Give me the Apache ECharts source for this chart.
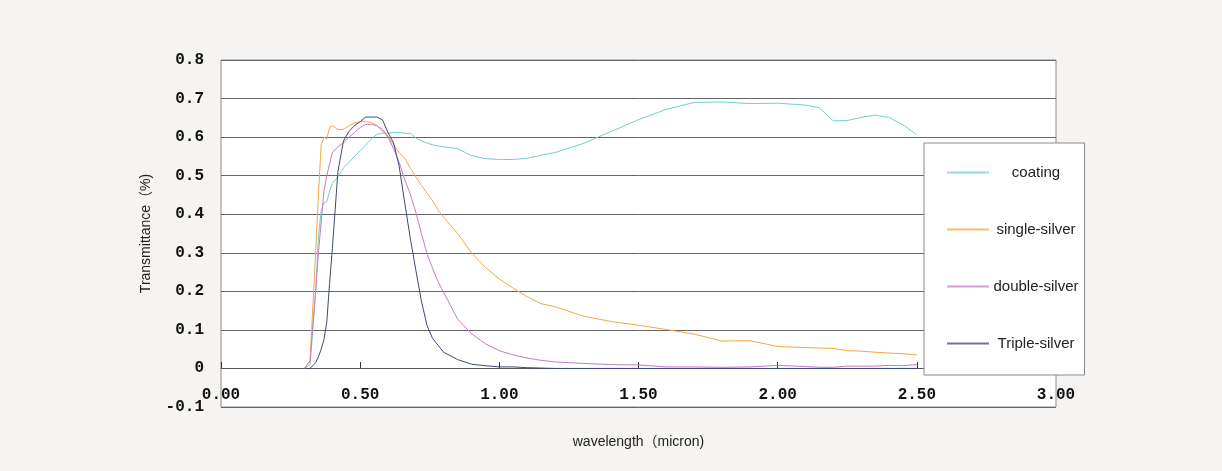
<!DOCTYPE html>
<html>
<head>
<meta charset="utf-8">
<script src="https://cdn.jsdelivr.net/npm/echarts@6/dist/echarts.min.js"></script>
<style>
html,body{margin:0;padding:0;background:#f5f4f2;}
#chart{width:1222px;height:471px;}
</style>
</head>
<body>
<div id="chart"></div>
<script>
// wavelength (micron)
const wavelengths = [0.30,0.32,0.34,0.35,0.36,0.37,0.38,0.39,0.40,0.42,0.44,0.46,0.48,0.50,0.52,0.54,0.56,0.58,0.60,0.62,0.64,0.66,0.68,0.70,0.72,0.74,0.76,0.78,0.80,0.85,0.90,0.95,1.00,1.05,1.10,1.15,1.20,1.30,1.40,1.50,1.60,1.70,1.80,1.90,2.00,2.10,2.15,2.20,2.25,2.30,2.35,2.40,2.45,2.50];
const coating = [0,0.01,0.20,0.34,0.41,0.43,0.432,0.46,0.48,0.497,0.52,0.535,0.55,0.565,0.58,0.595,0.607,0.61,0.61,0.612,0.612,0.61,0.61,0.598,0.59,0.585,0.58,0.577,0.575,0.57,0.552,0.544,0.542,0.542,0.545,0.553,0.56,0.583,0.614,0.645,0.672,0.69,0.691,0.687,0.688,0.683,0.676,0.642,0.643,0.651,0.657,0.651,0.632,0.606];
const singleSilver = [0,0.02,0.30,0.45,0.58,0.60,0.595,0.625,0.63,0.62,0.62,0.63,0.637,0.64,0.64,0.638,0.63,0.615,0.603,0.58,0.56,0.545,0.52,0.497,0.475,0.455,0.435,0.41,0.392,0.35,0.30,0.262,0.232,0.208,0.186,0.168,0.16,0.136,0.122,0.112,0.101,0.089,0.071,0.072,0.057,0.054,0.053,0.052,0.046,0.045,0.042,0.04,0.038,0.035];
const doubleSilver = [0,0.02,0.20,0.30,0.38,0.46,0.50,0.53,0.56,0.575,0.585,0.60,0.612,0.625,0.633,0.633,0.63,0.62,0.60,0.57,0.535,0.49,0.452,0.405,0.35,0.298,0.26,0.225,0.197,0.128,0.09,0.064,0.046,0.035,0.027,0.021,0.017,0.013,0.01,0.009,0.004,0.004,0.003,0.004,0.008,0.005,0.003,0.003,0.006,0.006,0.006,0.008,0.007,0.01];
const tripleSilver = [0,0,0.015,0.03,0.05,0.075,0.12,0.22,0.31,0.51,0.59,0.615,0.63,0.64,0.652,0.652,0.652,0.645,0.612,0.585,0.525,0.43,0.338,0.255,0.175,0.112,0.078,0.06,0.042,0.023,0.011,0.007,0.004,0.004,0.002,0.001,0,0,0,0,0,0,0,0,0,0,0,0,0,0,0,0,0,0];
const seriesNames = ['coating','single-silver','double-silver','Triple-silver'];
const seriesColors = ['#74cfcc','#f5a646','#c47dc1','#3d4a78'];
const xTicks = {min:0, max:3, interval:0.5};
const yTicks = {min:-0.1, max:0.8, interval:0.1};

const values = [coating, singleSilver, doubleSilver, tripleSilver];
const chart = echarts.init(document.getElementById('chart'));
const numFont = '"Liberation Mono","DejaVu Sans Mono",monospace';
const sansFont = '"Liberation Sans","Noto Sans CJK SC",sans-serif';
chart.setOption({
  animation:false,
  backgroundColor:'#f5f4f2',
  grid:{left:221,right:166,top:60,bottom:64,show:true,backgroundColor:'#ffffff',borderColor:'#8c8c8c',borderWidth:1,containLabel:false,outerBoundsMode:'none'},
  legend:{
    orient:'vertical', left:924, top:143,
    padding:[22,6,24,23], itemGap:42, itemWidth:42, itemHeight:2,
    backgroundColor:'#ffffff', borderColor:'#8a8a8a', borderWidth:1,
    data:seriesNames.map(n=>({name:n, icon:'rect'})),
    itemStyle:{opacity:0.75, borderWidth:0},
    formatter:n=>'{a|'+n+'}',
    textStyle:{fontFamily:sansFont, fontSize:15, color:'#222',
      rich:{a:{width:84, align:'center', fontFamily:sansFont, fontSize:15, color:'#222'}}}
  },
  xAxis:{
    type:'value', min:xTicks.min, max:xTicks.max, interval:xTicks.interval,
    position:'bottom', offset:-39,
    name:'wavelength（micron)', nameLocation:'middle', nameGap:67,
    nameTextStyle:{fontFamily:sansFont, fontSize:14, color:'#222'},
    axisLine:{onZero:false, lineStyle:{color:'#555'}},
    axisTick:{inside:true, length:6, lineStyle:{color:'#333'}},
    splitLine:{show:false},
    axisLabel:{margin:19, formatter:v=>v.toFixed(2), fontFamily:numFont, fontWeight:'bold', fontSize:16, color:'#111'}
  },
  yAxis:{
    type:'value', min:yTicks.min, max:yTicks.max, interval:yTicks.interval,
    name:'Transmittance（%)', nameLocation:'middle', nameGap:68, nameRotate:90,
    nameTextStyle:{fontFamily:sansFont, fontSize:14, color:'#222'},
    axisLine:{show:false}, axisTick:{show:false},
    splitLine:{lineStyle:{color:'#666', width:1}},
    axisLabel:{margin:17, formatter:v=>{const r=Math.round(v*10)/10; return r===0?'0':r.toFixed(1);}, fontFamily:numFont, fontWeight:'bold', fontSize:16, color:'#111'}
  },
  series: seriesNames.map((n,i)=>({
    name:n, type:'line', showSymbol:false, symbol:'none',
    lineStyle:{width:1, color:seriesColors[i]}, itemStyle:{color:seriesColors[i]},
    data: wavelengths.map((w,j)=>[w, values[i][j]])
  }))
});
</script>
</body>
</html>
